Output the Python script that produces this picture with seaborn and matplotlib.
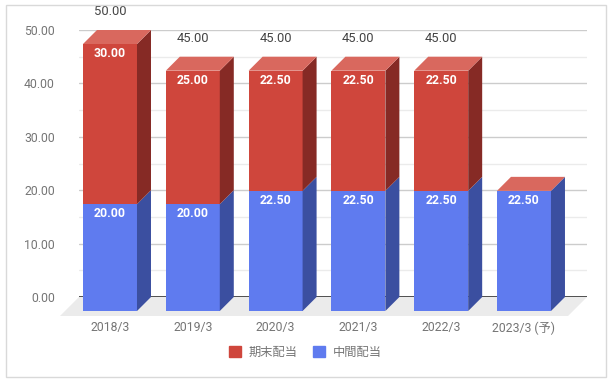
import numpy as np
import pandas as pd
import seaborn as sns
import matplotlib.pyplot as plt
from matplotlib.patches import Polygon, Rectangle, Patch

# data
years = ['2018/3', '2019/3', '2020/3', '2021/3', '2022/3', '2023/3 (予)']
interim = [20.0, 20.0, 22.5, 22.5, 22.5, 22.5]   # 中間配当
final = [30.0, 25.0, 22.5, 22.5, 22.5, 0.0]      # 期末配当 (2023 not decided)
series_names = ['期末配当', '中間配当']

# colours
blue = '#5f7bef'
blue_side = '#3b4fa0'
red = '#cf463c'
red_side = '#862a25'
red_top = '#d9685e'

sns.set_style('white')
plt.rcParams['font.family'] = ['Roboto', 'Noto Sans CJK JP', 'DejaVu Sans']

df = pd.DataFrame({'year': years, 'interim': interim, 'final': final})

fig = plt.figure(figsize=(6.11, 3.83), dpi=100)
# axes = back plane of the 3d box
ax = fig.add_axes([79 / 611, 86 / 383, 508 / 611, 267 / 383])

sns.barplot(data=df, x='year', y='interim', color=blue, width=0.652,
            saturation=1, errorbar=None, ax=ax, zorder=3)
n = len(ax.patches)
sns.barplot(data=df, x='year', y='final', bottom=np.array(interim),
            color=red, width=0.652, saturation=1, errorbar=None,
            ax=ax, zorder=3)
blue_bars = ax.patches[:n]
red_bars = ax.patches[n:]

ax.set_xlim(-0.5435, 5.592)
ax.set_ylim(0, 50)
ax.set_xlabel('')
ax.set_ylabel('')

# depth of the 3d effect, 14 px, in data units
p0 = ax.transData.transform((0, 0))
p1 = ax.transData.transform((1, 1))
ddx = 14 / (p1[0] - p0[0])
ddy = 14 / (p1[1] - p0[1])
ypx = p1[1] - p0[1]

# floor
x0, x1 = ax.get_xlim()
fx = 19 / (p1[0] - p0[0])
fy = 19 / ypx
ax.add_patch(Polygon([(x0, 0), (x1, 0), (x1 - fx, -fy), (x0 - fx, -fy)],
                     closed=True, color='#ebebeb', lw=0, clip_on=False, zorder=1))

# gridlines
ax.set_yticks(np.arange(0, 51, 10))
ax.set_yticks(np.arange(5, 50, 10), minor=True)
ax.set_yticklabels([f'{v:.2f}' for v in np.arange(0, 51, 10)])
ax.grid(which='major', axis='y', color='#cccccc', lw=1, zorder=0)
ax.grid(which='minor', axis='y', color='#ebebeb', lw=1, zorder=0)
ax.axhline(0, color='#333333', lw=1.2, zorder=2)
sns.despine(ax=ax, left=True, bottom=True)

# move the front faces forward and add side / top faces
for bars, side in [(blue_bars, blue_side), (red_bars, red_side)]:
    for bar in bars:
        bar.set_x(bar.get_x() - ddx)
        bar.set_y(bar.get_y() - ddy)
        bar.set_clip_on(False)
        bar.set_linewidth(0)
        h = bar.get_height()
        if h <= 0:
            continue
        xr = bar.get_x() + bar.get_width()
        yb = bar.get_y()
        yt = yb + h
        ax.add_patch(Polygon([(xr, yb), (xr + ddx, yb + ddy), (xr + ddx, yt + ddy), (xr, yt)],
                             closed=True, color=side, lw=0, clip_on=False, zorder=3))

for i, bar in enumerate(red_bars):
    xl = bar.get_x()
    xr = xl + bar.get_width()
    yt = bar.get_y() + bar.get_height()
    ax.add_patch(Polygon([(xl, yt), (xl + ddx, yt + ddy), (xr + ddx, yt + ddy), (xr, yt)],
                         closed=True, color=red_top, lw=0, clip_on=False, zorder=3))

# value labels
for bars, vals in [(blue_bars, interim), (red_bars, final)]:
    for bar, v in zip(bars, vals):
        if v <= 0:
            continue
        cx = bar.get_x() + bar.get_width() / 2
        yt = bar.get_y() + bar.get_height()
        ax.text(cx, yt - 9.5 / ypx, f'{v:.2f}', ha='center', va='center',
                color='white', fontsize=8.8, fontweight='bold', zorder=5)

for i, (a, b) in enumerate(zip(interim, final)):
    if b <= 0:
        continue
    ax.text(i - ddx, a + b + 18.5 / ypx, f'{a + b:.2f}', ha='center', va='center',
            color='#444444', fontsize=9.4, zorder=5)

ax.set_xticks(np.arange(len(years)) - ddx)
ax.set_xticklabels(years)
ax.tick_params(axis='x', length=0, pad=17.5, labelcolor='#757575', labelsize=8.8)
ax.tick_params(axis='y', which='both', length=0, pad=17.3, labelcolor='#757575', labelsize=8.8)

handles = [Patch(color=red, label=series_names[0]), Patch(color=blue, label=series_names[1])]
fig.legend(handles=handles, loc='center', bbox_to_anchor=(305 / 611, 31 / 383),
           ncol=2, frameon=False, handlelength=1.0, handleheight=1.0,
           handletextpad=0.6, columnspacing=1.3, fontsize=8.8, labelcolor='#757575')

fig.add_artist(Rectangle((5.5 / 611, 6 / 383), 600 / 611, 372 / 383,
                         transform=fig.transFigure, fill=False,
                         edgecolor='#d9d9d9', lw=1))

fig.savefig('out.png', dpi=100)
